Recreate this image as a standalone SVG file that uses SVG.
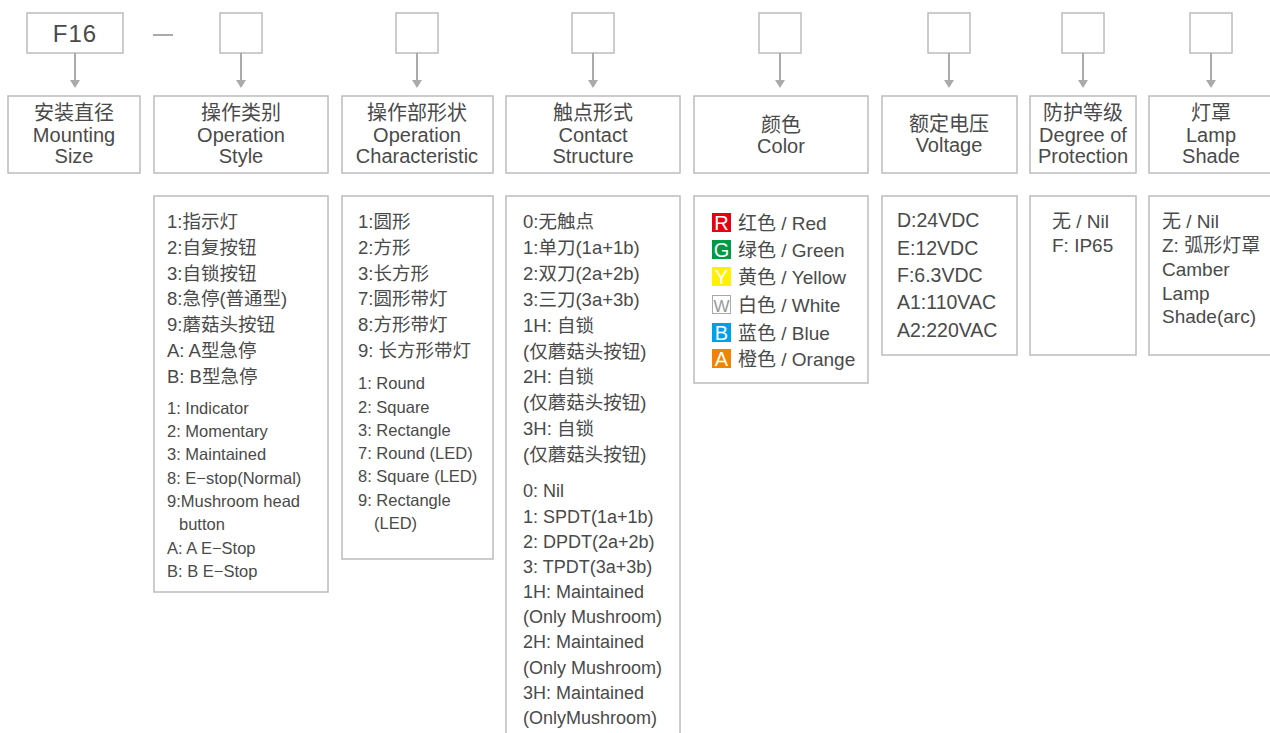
<svg xmlns="http://www.w3.org/2000/svg" width="1270" height="733" viewBox="0 0 1270 733">
<defs>
<style>
.b{fill:#fff;stroke:#bcbcbc;stroke-width:1.5}
.t{font-family:"Liberation Sans","Noto Sans CJK SC",sans-serif;fill:#4a4a4a}
.h{font-size:20px;text-anchor:middle}
.c{font-size:18.5px}
.e{font-size:16.5px}
.e4{font-size:18px}
.sq{font-family:"Liberation Sans",sans-serif;font-size:20px;fill:#fff;text-anchor:middle}
.con{stroke:#aaaaaa;stroke-width:2;fill:none}
</style>
</defs>
<rect width="1270" height="733" fill="#fff"/>

<g id="code">
<rect class="b" x="27" y="13" width="96" height="40"/>
<text class="t" x="75" y="42" font-size="24" text-anchor="middle" letter-spacing="1">F16</text>
<line x1="153" y1="35" x2="173" y2="35" stroke="#aaaaaa" stroke-width="2"/>
<rect class="b" x="220" y="13" width="42" height="40"/>
<rect class="b" x="396" y="13" width="42" height="40"/>
<rect class="b" x="572" y="13" width="42" height="40"/>
<rect class="b" x="759" y="13" width="42" height="40"/>
<rect class="b" x="928" y="13" width="42" height="40"/>
<rect class="b" x="1062" y="13" width="42" height="40"/>
<rect class="b" x="1190" y="13" width="42" height="40"/>
</g>

<g id="connectors">
<line class="con" x1="75" y1="53" x2="75" y2="81"/>
<line class="con" x1="241" y1="53" x2="241" y2="81"/>
<line class="con" x1="417" y1="53" x2="417" y2="81"/>
<line class="con" x1="593" y1="53" x2="593" y2="81"/>
<line class="con" x1="780" y1="53" x2="780" y2="81"/>
<line class="con" x1="949" y1="53" x2="949" y2="81"/>
<line class="con" x1="1083" y1="53" x2="1083" y2="81"/>
<line class="con" x1="1211" y1="53" x2="1211" y2="81"/>
<g fill="#aaaaaa">
<path d="M70,80 L80,80 L75,88 z"/>
<path d="M236,80 L246,80 L241,88 z"/>
<path d="M412,80 L422,80 L417,88 z"/>
<path d="M588,80 L598,80 L593,88 z"/>
<path d="M775,80 L785,80 L780,88 z"/>
<path d="M944,80 L954,80 L949,88 z"/>
<path d="M1078,80 L1088,80 L1083,88 z"/>
<path d="M1206,80 L1216,80 L1211,88 z"/>
</g>
</g>

<g id="h1">
<rect class="b" x="8" y="96" width="132" height="77"/>
<text class="t h" x="74" y="120">安装直径</text>
<text class="t h" x="74" y="142">Mounting</text>
<text class="t h" x="74" y="163">Size</text>
</g>
<g id="h2">
<rect class="b" x="154" y="96" width="174" height="77"/>
<text class="t h" x="241" y="120">操作类别</text>
<text class="t h" x="241" y="142">Operation</text>
<text class="t h" x="241" y="163">Style</text>
</g>
<g id="h3">
<rect class="b" x="342" y="96" width="151" height="77"/>
<text class="t h" x="417" y="120">操作部形状</text>
<text class="t h" x="417" y="142">Operation</text>
<text class="t h" x="417" y="163">Characteristic</text>
</g>
<g id="h4">
<rect class="b" x="506" y="96" width="174" height="77"/>
<text class="t h" x="593" y="120">触点形式</text>
<text class="t h" x="593" y="142">Contact</text>
<text class="t h" x="593" y="163">Structure</text>
</g>
<g id="h5">
<rect class="b" x="694" y="96" width="174" height="77"/>
<text class="t h" x="781" y="132">颜色</text>
<text class="t h" x="781" y="153">Color</text>
</g>
<g id="h6">
<rect class="b" x="882" y="96" width="135" height="77"/>
<text class="t h" x="949" y="131">额定电压</text>
<text class="t h" x="949" y="152">Voltage</text>
</g>
<g id="h7">
<rect class="b" x="1030" y="96" width="106" height="77"/>
<text class="t h" x="1083" y="120">防护等级</text>
<text class="t h" x="1083" y="142">Degree of</text>
<text class="t h" x="1083" y="163">Protection</text>
</g>
<g id="h8">
<rect class="b" x="1149" y="96" width="130" height="77"/>
<text class="t h" x="1211" y="120">灯罩</text>
<text class="t h" x="1211" y="142">Lamp</text>
<text class="t h" x="1211" y="163">Shade</text>
</g>

<g id="d2">
<rect class="b" x="154" y="196" width="174" height="396"/>
<text class="t c" x="167" y="228">1:指示灯</text>
<text class="t c" x="167" y="254">2:自复按钮</text>
<text class="t c" x="167" y="280">3:自锁按钮</text>
<text class="t c" x="167" y="305">8:急停(普通型)</text>
<text class="t c" x="167" y="331">9:蘑菇头按钮</text>
<text class="t c" x="167" y="357">A: A型急停</text>
<text class="t c" x="167" y="383">B: B型急停</text>
<text class="t e" x="167" y="414">1: Indicator</text>
<text class="t e" x="167" y="437">2: Momentary</text>
<text class="t e" x="167" y="460">3: Maintained</text>
<text class="t e" x="167" y="484">8: E−stop(Normal)</text>
<text class="t e" x="167" y="507">9:Mushroom head</text>
<text class="t e" x="179" y="530">button</text>
<text class="t e" x="167" y="554">A: A E−Stop</text>
<text class="t e" x="167" y="577">B: B E−Stop</text>
</g>

<g id="d3">
<rect class="b" x="342" y="196" width="151" height="363"/>
<text class="t c" x="358" y="228">1:圆形</text>
<text class="t c" x="358" y="254">2:方形</text>
<text class="t c" x="358" y="280">3:长方形</text>
<text class="t c" x="358" y="305">7:圆形带灯</text>
<text class="t c" x="358" y="331">8:方形带灯</text>
<text class="t c" x="358" y="357">9: 长方形带灯</text>
<text class="t e" x="358" y="389">1: Round</text>
<text class="t e" x="358" y="413">2: Square</text>
<text class="t e" x="358" y="436">3: Rectangle</text>
<text class="t e" x="358" y="459">7: Round (LED)</text>
<text class="t e" x="358" y="482">8: Square (LED)</text>
<text class="t e" x="358" y="506">9: Rectangle</text>
<text class="t e" x="374" y="529">(LED)</text>
</g>

<g id="d4">
<rect class="b" x="506" y="196" width="174" height="545"/>
<text class="t c" x="523" y="228">0:无触点</text>
<text class="t c" x="523" y="254">1:单刀(1a+1b)</text>
<text class="t c" x="523" y="280">2:双刀(2a+2b)</text>
<text class="t c" x="523" y="306">3:三刀(3a+3b)</text>
<text class="t c" x="523" y="332">1H: 自锁</text>
<text class="t c" x="523" y="358">(仅蘑菇头按钮)</text>
<text class="t c" x="523" y="383">2H: 自锁</text>
<text class="t c" x="523" y="409">(仅蘑菇头按钮)</text>
<text class="t c" x="523" y="435">3H: 自锁</text>
<text class="t c" x="523" y="461">(仅蘑菇头按钮)</text>
<text class="t e4" x="523" y="497">0: Nil</text>
<text class="t e4" x="523" y="523">1: SPDT(1a+1b)</text>
<text class="t e4" x="523" y="548">2: DPDT(2a+2b)</text>
<text class="t e4" x="523" y="573">3: TPDT(3a+3b)</text>
<text class="t e4" x="523" y="598">1H: Maintained</text>
<text class="t e4" x="523" y="623">(Only Mushroom)</text>
<text class="t e4" x="523" y="648">2H: Maintained</text>
<text class="t e4" x="523" y="674">(Only Mushroom)</text>
<text class="t e4" x="523" y="699">3H: Maintained</text>
<text class="t e4" x="523" y="724">(OnlyMushroom)</text>
</g>

<g id="d5">
<rect class="b" x="694" y="196" width="174" height="187"/>
<rect x="712" y="213" width="19" height="19" fill="#e60012"/>
<text class="sq" x="721.5" y="230">R</text>
<rect x="712" y="240" width="19" height="19" fill="#009944"/>
<text class="sq" x="721.5" y="257">G</text>
<rect x="712" y="267" width="19" height="19" fill="#fff100"/>
<text class="sq" x="721.5" y="284">Y</text>
<rect x="712.5" y="295.5" width="18" height="18" fill="#fff" stroke="#aaaaaa" stroke-width="1"/>
<text class="sq" x="721.5" y="311.5" style="fill:#999;font-size:17px">W</text>
<rect x="712" y="323" width="19" height="19" fill="#00a0e9"/>
<text class="sq" x="721.5" y="340">B</text>
<rect x="712" y="349" width="19" height="19" fill="#f08300"/>
<text class="sq" x="721.5" y="366">A</text>
<text class="t" font-size="19" x="738" y="230">红色 / Red</text>
<text class="t" font-size="19" x="738" y="257">绿色 / Green</text>
<text class="t" font-size="19" x="738" y="284">黄色 / Yellow</text>
<text class="t" font-size="19" x="738" y="312">白色 / White</text>
<text class="t" font-size="19" x="738" y="340">蓝色 / Blue</text>
<text class="t" font-size="19" x="738" y="366">橙色 / Orange</text>
</g>

<g id="d6">
<rect class="b" x="882" y="196" width="135" height="159"/>
<text class="t" font-size="19.5" x="897" y="227">D:24VDC</text>
<text class="t" font-size="19.5" x="897" y="255">E:12VDC</text>
<text class="t" font-size="19.5" x="897" y="282">F:6.3VDC</text>
<text class="t" font-size="19.5" x="897" y="309">A1:110VAC</text>
<text class="t" font-size="19.5" x="897" y="337">A2:220VAC</text>
</g>

<g id="d7">
<rect class="b" x="1030" y="196" width="106" height="159"/>
<text class="t" font-size="19" x="1052" y="228">无 / Nil</text>
<text class="t" font-size="19" x="1052" y="252">F: IP65</text>
</g>

<g id="d8">
<rect class="b" x="1149" y="196" width="130" height="159"/>
<text class="t" font-size="19" x="1162" y="228">无 / Nil</text>
<text class="t" font-size="19" x="1162" y="252">Z: 弧形灯罩</text>
<text class="t" font-size="19" x="1162" y="276">Camber</text>
<text class="t" font-size="19" x="1162" y="300">Lamp</text>
<text class="t" font-size="19" x="1162" y="323">Shade(arc)</text>
</g>
</svg>
